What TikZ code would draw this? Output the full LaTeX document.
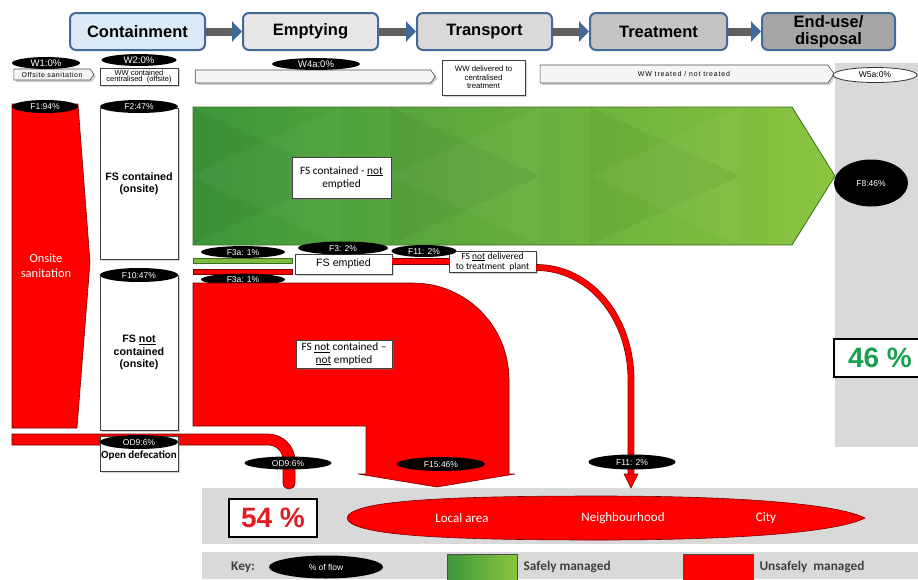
\documentclass[tikz,border=0pt]{standalone}
\usepackage{fontspec}
\setmainfont{Liberation Sans}
\newfontfamily\calfont{Carlito}
\usetikzlibrary{shapes.geometric,shapes.symbols,arrows.meta,shadows}
\definecolor{stageblue}{HTML}{41699A}
\definecolor{contfill}{HTML}{DAEAF6}
\definecolor{emptfill}{HTML}{E7E7E7}
\definecolor{transfill}{HTML}{D9D9D9}
\definecolor{treatfill}{HTML}{C4C4C4}
\definecolor{endfill}{HTML}{A6A6A6}
\definecolor{linkgray}{HTML}{5F5F5F}
\definecolor{panelgray}{HTML}{D9D9D9}
\definecolor{safeA}{HTML}{3D963A}
\definecolor{safeB}{HTML}{8CC43F}
\definecolor{safeline}{HTML}{3B6E22}
\definecolor{unsafered}{HTML}{FF0000}
\definecolor{unsafeline}{HTML}{7A0000}
\definecolor{pctred}{HTML}{E31B23}
\definecolor{pctgreen}{HTML}{1AA150}
\definecolor{keytext}{HTML}{404040}

\tikzset{
  stage/.style={draw=stageblue, line width=2pt, rounded corners=6pt, minimum height=37pt,
    inner sep=0pt, align=center, font=\fontsize{16.5}{17}\selectfont\bfseries},
  stagelink/.style={draw=linkgray, line width=8pt, -{Triangle[length=10pt,width=20pt,color=stageblue]}},
  flowtag/.style={ellipse, fill=black, text=white, inner sep=0pt, text height=0.72em,
    text depth=0.12em, font=\fontsize{8.5}{9}\selectfont},
  wwtag/.style={flowtag, font=\fontsize{9.5}{10}\selectfont},
  shade box/.style={drop shadow={shadow xshift=2pt, shadow yshift=-2pt, opacity=.35}},
  fsbox/.style={draw=black!75, line width=0.8pt, fill=white, inner sep=1pt, align=center, shade box},
  wwarrow/.style={signal, signal to=east, signal pointer angle=110, draw=black!70,
    line width=0.6pt, fill=black!4, inner sep=0pt, shade box},
  unsafe/.style={fill=unsafered, draw=unsafeline, line width=0.6pt},
  pipe/.style={double=unsafered, double distance=5.5pt, draw=unsafeline, line width=0.6pt},
  panel/.style={fill=panelgray},
  areatext/.style={text=white, font=\calfont\fontsize{13}{14}\selectfont},
  keylabel/.style={text=keytext, anchor=west, font=\calfont\fontsize{13.3}{14}\selectfont\bfseries},
  bigpct/.style={draw=black, line width=2pt, fill=white, minimum height=38pt,
    font=\fontsize{28}{30}\selectfont\bfseries},
}

\begin{document}
\begin{tikzpicture}[x=1pt, y=-1pt]
  \useasboundingbox (0,0) rectangle (918,579);
  \clip (0,0) rectangle (918,579);

  % grey panels
  \fill[panel] (835,63) rectangle (918,447);
  \fill[panel] (202,488) rectangle (918,544);
  \fill[panel] (202,552) rectangle (918,579);

  % stages along the top
  \node[stage, fill=contfill, minimum width=135pt] (cont) at (137.5,31.5) {Containment};
  \node[stage, fill=emptfill, minimum width=135pt] (empt) at (310.5,31.5) {Emptying};
  \node[stage, fill=transfill, minimum width=135pt] (trans) at (484.5,31.5) {Transport};
  \node[stage, fill=treatfill, minimum width=137pt] (treat) at (658.5,31.5) {Treatment};
  \node[stage, fill=endfill, minimum width=133pt] (enduse) at (828.5,31.5) {End-use/\\disposal};
  \foreach \a/\b in {cont/empt,empt/trans,trans/treat,treat/enduse}
    \draw[stagelink] (\a.east) -- (\b.west);

  % wastewater row
  \node[wwarrow, minimum width=80pt, minimum height=11pt,
    font=\fontsize{7}{7}\selectfont\addfontfeatures{LetterSpace=8}] (offsite) at (52,74.5) {Offsite sanitation};
  \node[wwtag, minimum width=68pt] (w1) at (46,63) {W1:0\%};
  \node[fsbox, minimum width=78pt, minimum height=17pt, inner sep=0pt,
    font=\fontsize{7.5}{6.5}\selectfont] (wwcont) at (139,76.5) {WW contained\\centralised~ (offsite)};
  \node[wwtag, minimum width=75pt] (w2) at (139,60) {W2:0\%};
  \node[wwarrow, minimum width=240pt, minimum height=13pt] (wwlong) at (313,76.5) {};
  \node[wwtag, minimum width=88pt] (w4a) at (316,64) {W4a:0\%};
  \node[fsbox, minimum width=83pt, minimum height=35pt,
    font=\fontsize{7.8}{8.5}\selectfont] (wwdel) at (483.5,77.5) {WW delivered to\\centralised\\treatment};
  \node[wwarrow, minimum width=294pt, minimum height=18pt,
    font=\fontsize{7}{7}\selectfont\addfontfeatures{LetterSpace=12}] (wwtreat) at (684,74) {WW treated / not treated};
  \node[ellipse, draw=black!80, line width=0.8pt, fill=white, inner sep=0pt, minimum width=84pt,
    minimum height=15pt, font=\fontsize{8.5}{9}\selectfont] (w5a) at (875,75) {W5a:0\%};

  % onsite sanitation
  \filldraw[unsafe] (12,104) -- (78,104) -- (90,262) -- (77,428) -- (12,428) -- cycle;
  \node[text=white, align=center, font=\calfont\fontsize{12.5}{15}\selectfont] (onsite) at (46,266) {Onsite\\sanitation};
  \node[flowtag, minimum width=66pt, minimum height=13pt] (f1) at (45,106.5) {F1:94\%};

  \node[fsbox, minimum width=78pt, minimum height=151pt,
    font=\fontsize{10.7}{12.5}\selectfont\bfseries] (fscont) at (139,183.5) {FS contained\\(onsite)};
  \node[flowtag, minimum width=78pt, minimum height=13pt] (f2) at (139,106.5) {F2:47\%};
  \node[fsbox, minimum width=78pt, minimum height=155pt,
    font=\fontsize{10.7}{12.5}\selectfont\bfseries] (fsnotcont) at (139,352.5) {FS \underline{not}\\contained\\(onsite)};
  \node[flowtag, minimum width=78pt, minimum height=14pt] (f10) at (139,275) {F10:47\%};

  % safely managed flow
  \shade[left color=safeA, right color=safeB]
    (193,107) -- (792,107) -- (835,176) -- (792,245) -- (193,245) -- cycle;
  \begin{scope}
    \clip (193,107) -- (792,107) -- (835,176) -- (792,245) -- (193,245) -- cycle;
    \foreach \x in {190,390,590} {
      \fill[black, opacity=.045] (\x,107) -- (\x+150,176) -- (\x,245) -- cycle;
      \fill[white, opacity=.04] (\x+150,107) -- (\x,176) -- (\x+150,245) -- cycle;
    }
  \end{scope}
  \draw[safeline, line width=0.8pt]
    (193,107) -- (792,107) -- (835,176) -- (792,245) -- (193,245) -- cycle;
  \node[fsbox, minimum width=99pt, minimum height=41pt,
    font=\calfont\fontsize{11.3}{13}\selectfont] (fscnot) at (341.5,177.5) {FS contained - \underline{not}\\emptied};
  \node[flowtag, minimum width=74pt, minimum height=47pt] (f8) at (871,183) {F8:46\%};

  % emptied
  \filldraw[fill=safeB!80!safeA, draw=safeline, line width=0.5pt] (193,258) rectangle (292,263);
  \filldraw[unsafe, line width=0.5pt] (193,269) rectangle (292,274);
  \node[flowtag, minimum width=84pt, minimum height=10pt] (f3aup) at (243,252) {F3a: 1\%};
  \node[flowtag, minimum width=84pt, minimum height=8pt] (f3alow) at (243,279.5) {F3a: 1\%};
  \node[fsbox, minimum width=97pt, minimum height=20pt,
    font=\fontsize{10.7}{12}\selectfont] (emptied) at (343.5,264) {FS emptied};
  \node[fsbox, minimum width=87pt, minimum height=21pt, inner sep=0pt,
    font=\calfont\fontsize{9.5}{10}\selectfont] (notdel) at (492.5,261.5) {FS \underline{not} delivered\\to treatment~ plant};
  \draw[pipe] (emptied.east |- notdel.west) -- (notdel.west);
  \node[flowtag, minimum width=90pt, minimum height=13pt] (f3) at (343,248) {F3: 2\%};
  \node[flowtag, minimum width=65pt, minimum height=12pt] (f11up) at (424,251) {F11: 2\%};

  % not delivered, dumped
  \coordinate (dump) at (631,474);
  \draw[pipe] ([yshift=-6pt]notdel.east) .. controls +(53,0) and +(0,-63) .. (631,380) -- (dump);
  \filldraw[unsafe] (624,474) -- (638,474) -- (631,488) -- cycle;
  \node[flowtag, minimum width=87pt, minimum height=15pt] (f11low) at (632,462) {F11: 2\%};

  % not contained, not emptied
  \filldraw[unsafe] (193,283) -- (413,283) .. controls (466,283) and (509,326) .. (509,380)
    -- (509,474) -- (515,474) -- (437,487) -- (358,474) -- (366,474) -- (366,426) -- (193,426) -- cycle;
  \node[fsbox, minimum width=96pt, minimum height=28pt,
    font=\calfont\fontsize{11.3}{12.5}\selectfont] (fsnn) at (344,354) {FS \underline{not} contained –\\\underline{not} emptied};
  \node[flowtag, minimum width=88pt, minimum height=14pt] (f15) at (441,464) {F15:46\%};

  % open defecation
  \filldraw[unsafe] (12,434) -- (268,434) .. controls (283,434) and (295,446) .. (295,461)
    -- (295,483) .. controls (295,491) and (283,491) .. (283,483)
    -- (283,461) .. controls (283,452) and (277,445) .. (268,445) -- (12,445) -- cycle;
  \node[fsbox, minimum width=78pt, minimum height=35pt,
    label={[anchor=north, yshift=-12pt, font=\calfont\fontsize{11}{12}\selectfont\bfseries]north:Open defecation}] (opendef) at (139,453.5) {};
  \node[flowtag, minimum width=78pt, minimum height=14pt] (od9a) at (139,442) {OD9:6\%};
  \node[flowtag, minimum width=87pt, minimum height=13pt] (od9b) at (288,463) {OD9:6\%};

  % totals
  \node[bigpct, text=pctred, minimum width=88pt] (unsafepct) at (273,518) {54 \%};
  \node[bigpct, text=pctgreen, minimum width=92pt] (safepct) at (880,358) {46 \%};

  % where it ends up
  \filldraw[unsafe] (347,518) .. controls (350,500) and (450,496) .. (600,496)
    .. controls (750,496) and (840,505) .. (865,518)
    .. controls (840,531) and (750,540) .. (600,540)
    .. controls (450,540) and (350,536) .. (347,518) -- cycle;
  \node[areatext] (local) at (462,518) {Local area};
  \node[areatext] (hood) at (623,518) {Neighbourhood};
  \node[areatext] (city) at (766,518) {City};

  % key
  \node[keylabel, anchor=center] (key) at (243,567) {Key:};
  \node[flowtag, minimum width=114pt, minimum height=23pt] (keyflow) at (326,567) {\% of flow};
  \shade[left color=safeA, right color=safeB, draw=black!70] (447,554) rectangle (517,581);
  \node[keylabel] (safe) at (520,567) {Safely managed};
  \filldraw[unsafe, draw=black!70] (683,554) rectangle (753,581);
  \node[keylabel] (unsafe) at (756,567) {Unsafely~ managed};
\end{tikzpicture}
\end{document}
